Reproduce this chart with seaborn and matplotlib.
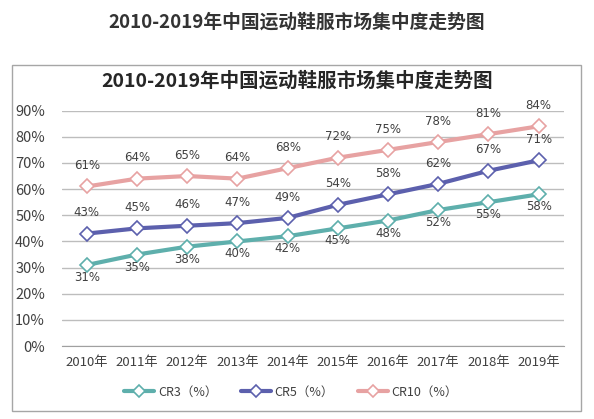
import seaborn as sns
import matplotlib.pyplot as plt
import pandas as pd
from matplotlib.patches import Rectangle
from matplotlib.ticker import FixedLocator

sns.set_style("white")
plt.rcParams['font.family'] = ['Noto Sans CJK SC', 'DejaVu Sans']

# data
years = ["2010年", "2011年", "2012年", "2013年", "2014年",
         "2015年", "2016年", "2017年", "2018年", "2019年"]
cr3 = [31, 35, 38, 40, 42, 45, 48, 52, 55, 58]
cr5 = [43, 45, 46, 47, 49, 54, 58, 62, 67, 71]
cr10 = [61, 64, 65, 64, 68, 72, 75, 78, 81, 84]
series_names = ["CR3（%）", "CR5（%）", "CR10（%）"]
colors = ["#5eafac", "#5c60ad", "#e7a2a2"]

df = pd.DataFrame({
    "pos": list(range(len(years))) * 3,
    "value": [v / 100 for v in cr3 + cr5 + cr10],
    "series": [n for n in series_names for _ in years],
})

fig = plt.figure(figsize=(5.94, 4.19), dpi=100)
ax = fig.add_axes([0.104, 0.174, 0.845, 0.562])

for name, col in zip(series_names, colors):
    sub = df[df["series"] == name]
    sns.lineplot(data=sub, x="pos", y="value", ax=ax, color=col, lw=3,
                 marker="D", markersize=7.5, markerfacecolor="white",
                 markeredgecolor=col, markeredgewidth=1.2, label=name,
                 zorder=3)

# data labels
for vals, above in [(cr10, True), (cr5, True), (cr3, False)]:
    for i, v in enumerate(vals):
        ax.annotate(f"{v}%", (i, v / 100), xytext=(0, 15 if above else -9),
                    textcoords="offset points", ha="center", va="center",
                    fontsize=8.5, color="#404040", family="DejaVu Sans")

ax.set_xlim(-0.5, len(years) - 0.5)
ax.set_ylim(0, 0.9)
ax.set_yticks([i / 10 for i in range(10)])
ax.set_yticklabels([f"{i * 10}%" for i in range(10)], fontsize=10.5, color="#404040")
ax.set_xticks(range(len(years)))
ax.set_xticklabels(years, fontsize=9.5, color="#404040")
ax.tick_params(axis="x", which="major", length=0, pad=7)
ax.tick_params(axis="y", length=0, pad=12)
ax.xaxis.set_minor_locator(FixedLocator([i - 0.5 for i in range(len(years) + 1)]))
ax.tick_params(axis="x", which="minor", length=5, color="#a0a0a0", direction="out")
ax.set_xlabel("")
ax.set_ylabel("")
ax.grid(axis="y", color="#bdbdbd", lw=1)
ax.set_axisbelow(True)
for s in ["top", "left", "right"]:
    ax.spines[s].set_visible(False)
ax.spines["bottom"].set_color("#a0a0a0")

ax.legend_.remove()
handles, labels = ax.get_legend_handles_labels()
fig.legend(handles, labels, loc="center", bbox_to_anchor=(0.49, 0.064), ncol=3,
           frameon=False, fontsize=9, handlelength=2.4, columnspacing=1.9,
           handletextpad=0.3, markerscale=0.75, labelcolor="#404040")

# panel border and titles
fig.patches.append(Rectangle((0.02, 0.02), 0.958, 0.825, transform=fig.transFigure,
                             fill=False, edgecolor="#a6a6a6", lw=1))
fig.text(0.5, 0.947, "2010-2019年中国运动鞋服市场集中度走势图", ha="center", va="center",
         fontsize=13.5, fontweight="bold", color="#333333")
fig.text(0.5, 0.808, "2010-2019年中国运动鞋服市场集中度走势图", ha="center", va="center",
         fontsize=14, fontweight="bold", color="#262626")

plt.savefig("out.png", dpi=100)
plt.close()
